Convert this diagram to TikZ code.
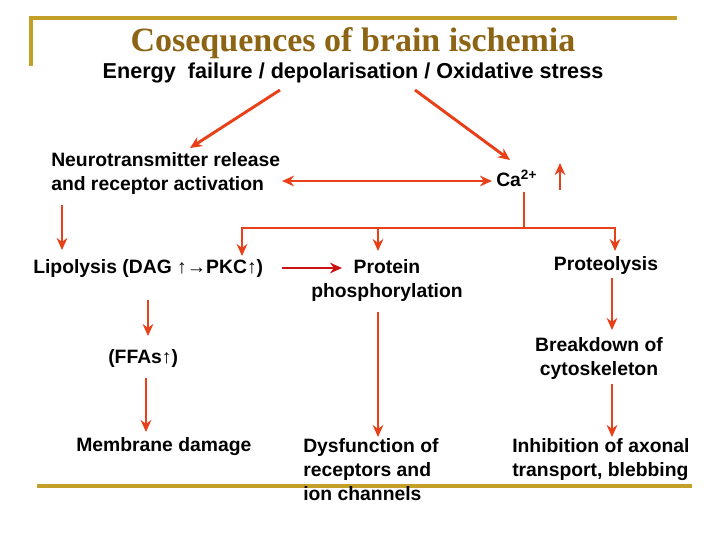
\documentclass[tikz,border=0pt]{standalone}
\usepackage{fontspec}
\setmainfont{Liberation Sans}
\newfontfamily\titlefont{Liberation Serif}
\usetikzlibrary{arrows.meta}
\definecolor{gold}{RGB}{196,160,40}
\definecolor{brn}{RGB}{140,100,20}
\definecolor{arr}{RGB}{232,64,24}
\definecolor{darr}{RGB}{200,20,20}
\begin{document}
\begin{tikzpicture}[x=0.75pt,y=-0.75pt,
  t/.style={font=\bfseries\fontsize{14.5}{18}\selectfont,inner sep=0pt,align=left},
  a/.style={draw=arr,line width=2.2pt,-{Stealth[length=9pt,width=8pt]}},
  ln/.style={draw=arr,line width=2.2pt}]
\useasboundingbox (0,0) rectangle (720,540);
\draw[gold,line width=2.5pt] (31,66) -- (31,18) -- (677,18);
\draw[gold,line width=3pt] (37,486) -- (692,486);
\node[font=\titlefont\bfseries\fontsize{25.5}{28}\selectfont,text=brn] (title) at (353,43) {Cosequences of brain ischemia};
\node[font=\bfseries\fontsize{16.2}{18}\selectfont,inner sep=0pt] (sub) at (353,73) {Energy\ \ failure / depolarisation / Oxidative stress};
\node[t,anchor=west] (nt) at (51,173) {Neurotransmitter release\\and receptor activation};
\node[t,anchor=west] (ca) at (496,178) {Ca\textsuperscript{2+}};
\coordinate (caup1) at (560,190); \coordinate (caup2) at (560,163);
\node[t,anchor=west] (lip) at (33,268) {Lipolysis (DAG ↑→PKC↑)};
\node[t,align=center] (pp) at (387,280) {Protein\\phosphorylation};
\node[t] (prot) at (606,265) {Proteolysis};
\node[t,anchor=west] (ffa) at (108,358) {(FFAs↑)};
\node[t,align=center] (bd) at (599,358) {Breakdown of\\cytoskeleton};
\node[t,anchor=west] (md) at (76,447) {Membrane damage};
\node[t,anchor=north west] (dys) at (303,438) {Dysfunction of\\receptors and\\ion channels};
\node[t,anchor=north west] (inh) at (512,438) {Inhibition of axonal\\transport, blebbing};
% arrows
\coordinate (s1) at (280,90); \coordinate (e1) at (190,148);
\coordinate (s2) at (415,90); \coordinate (e2) at (510,160);
\draw[a] (s1) -- (e1);
\draw[a] (s2) -- (e2);
\draw[a,{Stealth[length=9pt,width=8pt]}-{Stealth[length=9pt,width=8pt]}] (282,181) -- (492,181);
\draw[a] (caup1) -- (caup2);
\draw[ln] (524,192) -- (524,228);
\draw[ln] (242,228) -- (615,228);
\draw[a] (242,227) -- (242,256);
\draw[a] (378,227) -- (378,251);
\draw[a] (615,227) -- (615,251);
\draw[a] (62,205) -- (62,250);
\draw[a,draw=darr] (282,268) -- (342,268);
\draw[a] (148,300) -- (148,336);
\draw[a] (146,378) -- (146,432);
\draw[a] (378,312) -- (378,437);
\draw[a] (612,278) -- (612,330);
\draw[a] (612,384) -- (612,437);
\end{tikzpicture}
\end{document}
